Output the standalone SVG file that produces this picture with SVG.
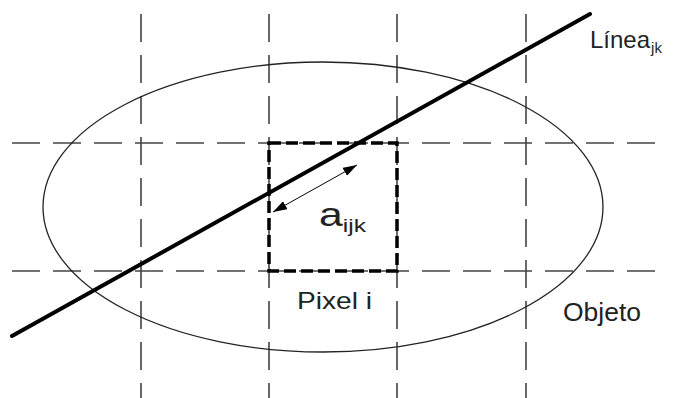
<svg xmlns="http://www.w3.org/2000/svg" width="680" height="398" viewBox="0 0 680 398">
<defs>
<style>
.grid{stroke:#444;stroke-width:1.6;stroke-dasharray:28 13;fill:none}
.obj{fill:none;stroke:#222;stroke-width:1.3}
.txt{font-family:"Liberation Sans",Arial,sans-serif;fill:#222}
</style>
<marker id="ah" viewBox="0 0 14 9" refX="14" refY="4.5" markerWidth="14" markerHeight="9" markerUnits="userSpaceOnUse" orient="auto-start-reverse">
<path d="M0,0 L14,4.5 L0,9 Z" fill="#000"/>
</marker>
</defs>
<rect width="680" height="398" fill="#fff"/>
<g id="grid">
<line class="grid" x1="12" y1="143" x2="656" y2="143"/>
<line class="grid" x1="12" y1="271" x2="656" y2="271"/>
<line class="grid" x1="141" y1="14" x2="141" y2="398"/>
<line class="grid" x1="269" y1="14" x2="269" y2="398"/>
<line class="grid" x1="397" y1="14" x2="397" y2="398"/>
<line class="grid" x1="526" y1="14" x2="526" y2="398"/>
</g>
<g id="objeto">
<ellipse class="obj" cx="323" cy="207" rx="280" ry="145"/>
<text class="txt" x="563" y="321" font-size="25" textLength="78" lengthAdjust="spacingAndGlyphs">Objeto</text>
</g>
<g id="pixel">
<rect x="269" y="143" width="128" height="128" fill="none" stroke="#000" stroke-width="3.5" stroke-dasharray="12 5"/>
<text class="txt" x="297" y="309" font-size="24" textLength="75" lengthAdjust="spacingAndGlyphs">Pixel i</text>
</g>
<g id="linea">
<line x1="12" y1="336" x2="590" y2="14" stroke="#000" stroke-width="4" stroke-linecap="round"/>
<text class="txt" x="590" y="48" font-size="24">Línea<tspan dx="1" dy="5" font-size="15">jk</tspan></text>
</g>
<g id="connectors">
<line x1="273" y1="212" x2="357" y2="165" stroke="#000" stroke-width="1" marker-start="url(#ah)" marker-end="url(#ah)"/>
</g>
<g id="aijk">
<text class="txt" x="319" y="226" font-size="33" textLength="47" lengthAdjust="spacingAndGlyphs">a<tspan dy="6" font-size="19">ijk</tspan></text>
</g>
</svg>
